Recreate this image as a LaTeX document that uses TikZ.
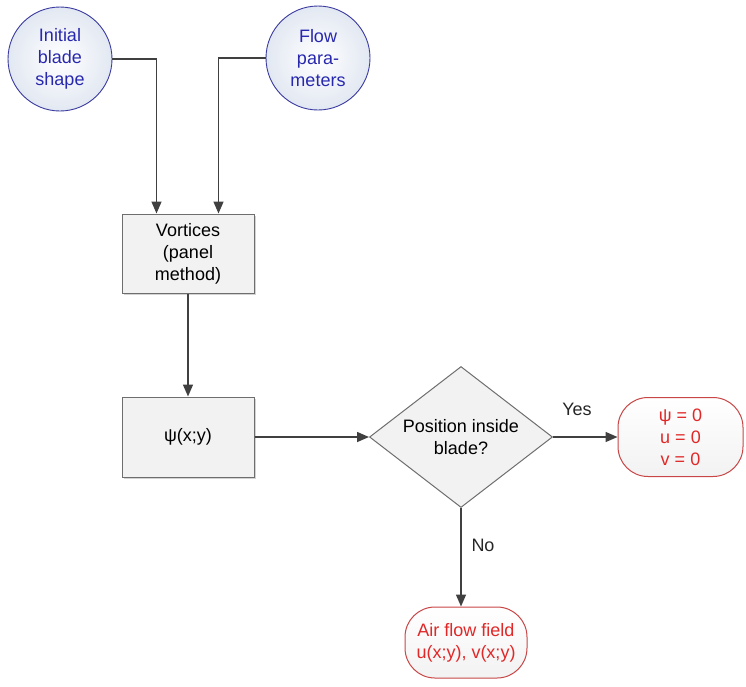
\documentclass[tikz,border=0pt]{standalone}
\usepackage{fontspec}
\setmainfont{Liberation Sans}
\usetikzlibrary{shapes.geometric,arrows.meta,shadows,calc}
\definecolor{inblue}{RGB}{58,58,160}
\definecolor{intext}{RGB}{40,40,175}
\definecolor{cfill}{RGB}{226,232,242}
\definecolor{bfill}{RGB}{242,242,242}
\definecolor{bdraw}{RGB}{110,110,110}
\definecolor{tred}{RGB}{200,70,70}
\definecolor{ttext}{RGB}{225,40,40}
\definecolor{arrc}{RGB}{64,64,64}
\tikzset{
  txt/.style={font=\fontsize{18}{22}\selectfont, align=center},
  inputc/.style={txt, circle, draw=inblue, line width=0.9pt, text=intext,
    inner color=white, outer color=cfill, minimum size=104pt, inner sep=0pt},
  procbox/.style={txt, rectangle, draw=bdraw, line width=1pt, fill=bfill,
    drop shadow={shadow xshift=2pt, shadow yshift=-2pt, opacity=0.35, fill=gray},
    minimum width=132pt, minimum height=79pt, inner sep=0pt},
  decision/.style={txt, diamond, aspect=1.3, draw=bdraw, line width=1pt, fill=bfill,
    minimum width=183pt, minimum height=141pt, inner sep=0pt},
  termbox/.style={txt, rectangle, rounded corners=30pt, draw=tred, line width=1pt,
    text=ttext, top color=white, bottom color=bfill, inner sep=0pt},
  arr/.style={draw=arrc, line width=1.5pt, -{Triangle[length=12pt,width=10pt]}},
  lbl/.style={txt, text=black!85}
}
\begin{document}
\begin{tikzpicture}[x=1pt,y=-1pt]
\useasboundingbox (0,0) rectangle (746,686);
\node[inputc] (c1) at (60,59) {Initial\\blade\\shape};
\node[inputc] (c2) at (318,58) {Flow\\para-\\meters};
\node[procbox] (v) at (188,253.5) {Vortices\\(panel\\method)};
\node[procbox, minimum height=80pt] (p) at (188,437) {ψ(x;y)};
\node[decision] (d) at (461,437) {Position inside\\blade?};
\node[termbox, minimum width=125pt, minimum height=79pt] (r1) at (680.5,437) {ψ = 0\\u = 0\\v = 0};
\node[termbox, minimum width=122pt, minimum height=71pt] (r2) at (466,642.5) {Air flow field\\u(x;y), v(x;y)};
\draw[arr] (c1.east) -| ($(v.north west)+(35,0)$);
\draw[arr] (c2.west) -| ($(v.north east)+(-36,0)$);
\draw[arr] (v.south) -- (p.north);
\draw[arr] (p.east) -- (d.west);
\draw[arr] (d.east) -- (r1.west);
\draw[arr] (d.south) -- (d.south |- r2.north);
\node[lbl] (yes) at (577,409) {Yes};
\node[lbl] (no) at (483,545) {No};
\end{tikzpicture}
\end{document}
